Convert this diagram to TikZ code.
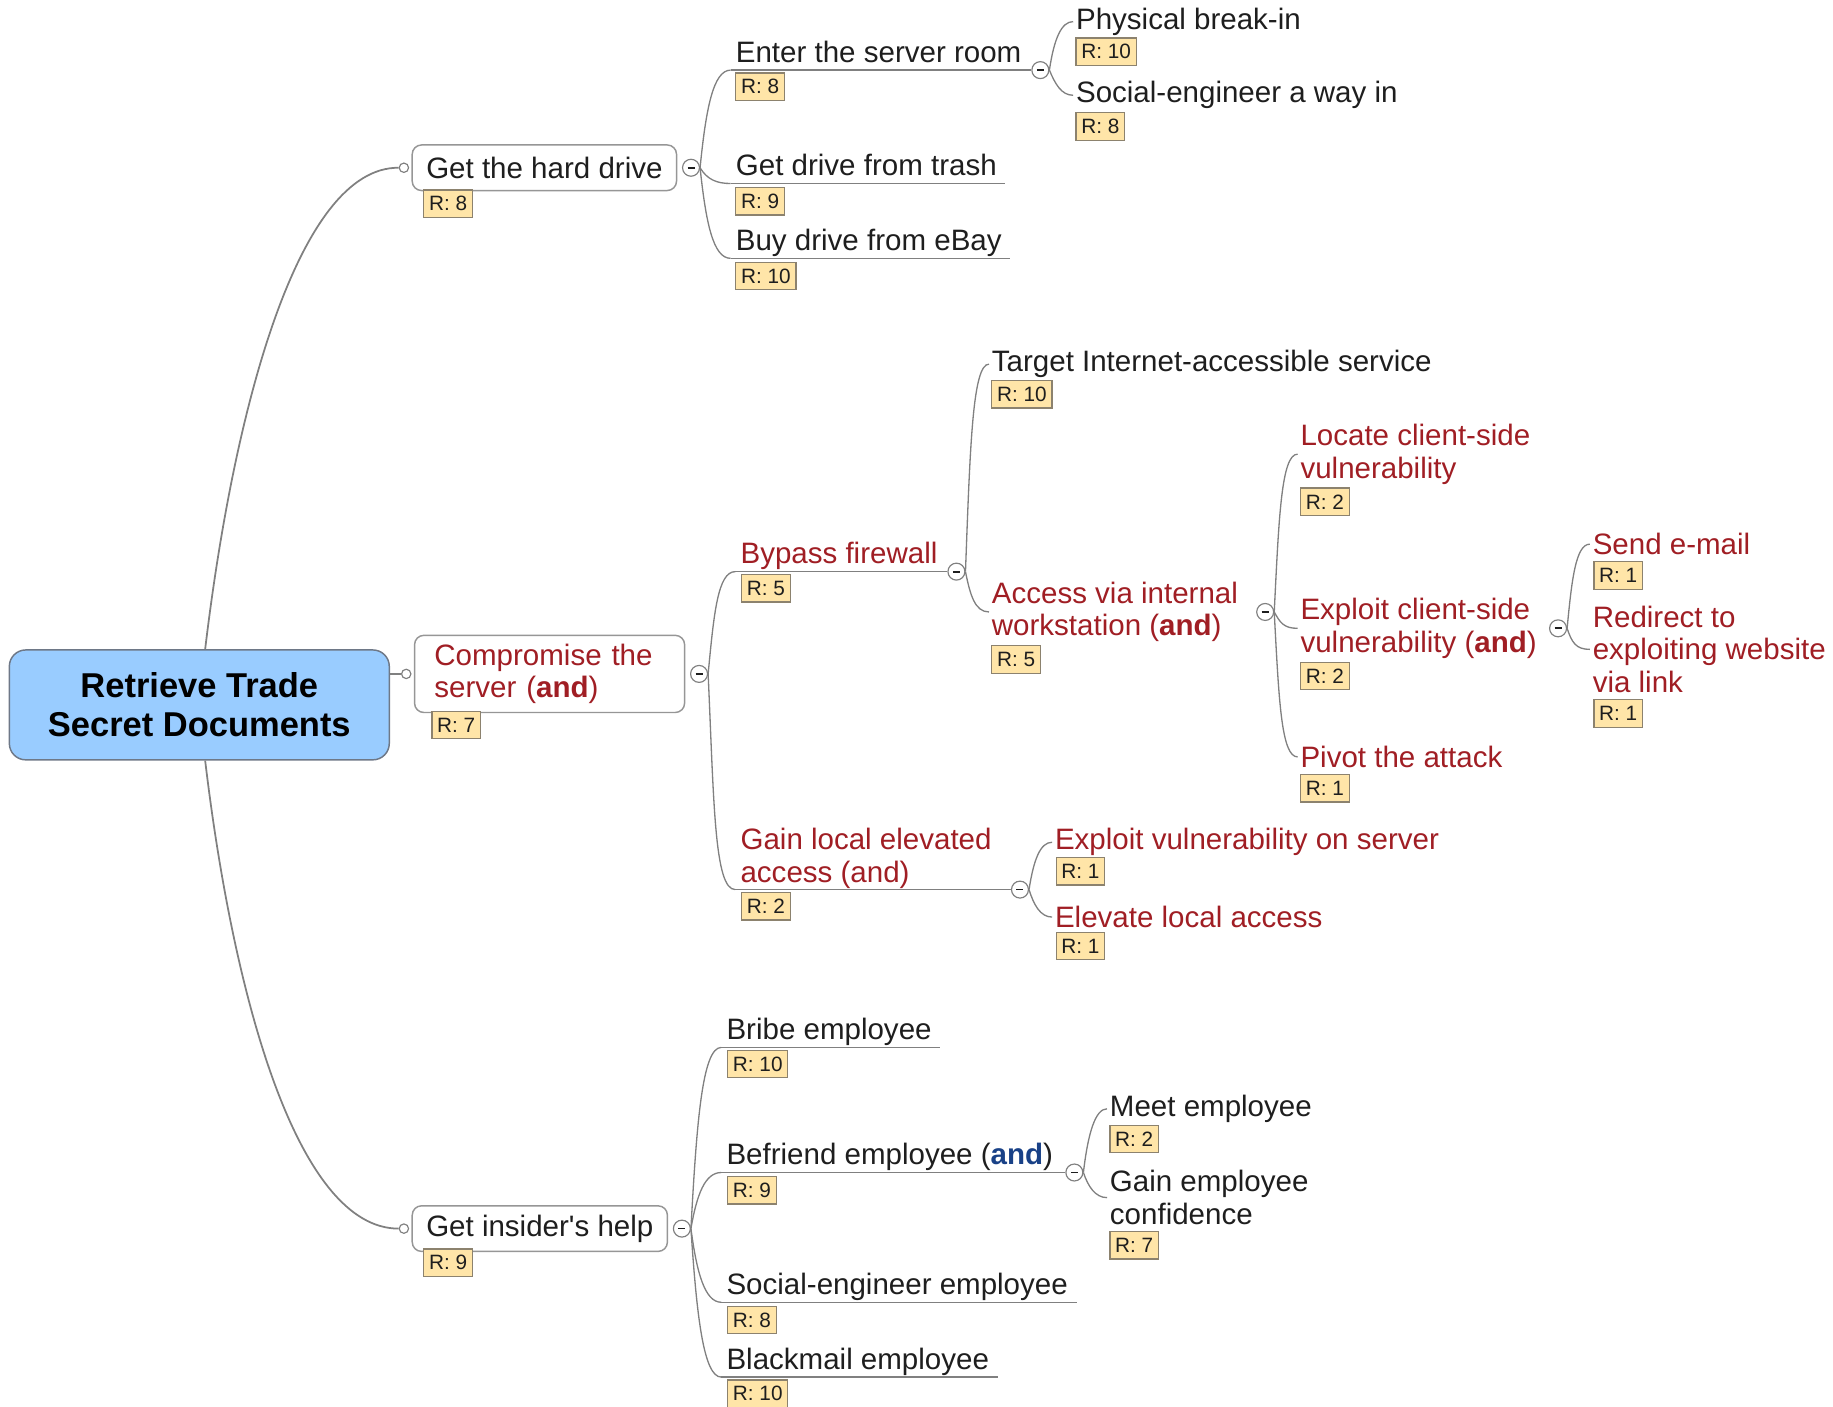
\documentclass[tikz,border=0pt]{standalone}
\usepackage{fontspec}
\setmainfont{Liberation Sans}
\usepackage{tikz}
\usetikzlibrary{positioning}
\usepackage{xcolor}

\definecolor{linegray}{RGB}{128,128,128}
\definecolor{boxgray}{RGB}{150,150,150}
\definecolor{rootblue}{RGB}{153,204,255}
\definecolor{rootedge}{RGB}{110,120,135}
\definecolor{redtxt}{RGB}{160,30,36}
\definecolor{bluetxt}{RGB}{25,65,135}
\definecolor{rfill}{RGB}{255,229,168}
\definecolor{redge}{RGB}{140,130,110}
\definecolor{blacktxt}{RGB}{30,30,30}
\newcommand{\foldbar}{\rule{2.4pt}{0.6pt}}

\begin{document}
\begin{tikzpicture}[x=0.4pt,y=-0.4pt,
  every node/.style={font=\fontsize{10.1}{11.2}\selectfont, text=blacktxt},
  link/.style={draw=linegray, line width=0.45pt},
  root/.style={draw=rootedge, fill=rootblue, rounded corners=5.6pt, minimum width=130pt, minimum height=37.6pt, align=center, text=black, font=\fontsize{11.8}{13.2}\selectfont\bfseries, line width=0.5pt},
  topbox/.style={draw=boxgray, fill=white, rounded corners=3.2pt, inner xsep=4.8pt, inner ysep=0pt, minimum height=15.6pt, line width=0.5pt},
  uline/.style={inner xsep=1.6pt, inner ysep=0.3pt, text depth=2.2pt, anchor=south west},
  multi/.style={inner xsep=1.6pt, inner ysep=0.3pt, align=left, anchor=south west},
  leaf/.style={inner xsep=0.8pt, inner ysep=0pt, align=left, anchor=west, yshift=-1pt},
  rbox/.style={draw=redge, fill=rfill, font=\fontsize{7.1}{8}\selectfont, text=blacktxt, inner xsep=1.8pt, inner ysep=0pt, minimum height=9.4pt, anchor=north west, line width=0.4pt},
  port/.style={circle, draw=linegray, fill=white, inner sep=0pt, minimum size=3.2pt, line width=0.4pt},
  fold/.style={circle, draw=linegray, fill=white, inner sep=0pt, minimum size=5.8pt, line width=0.4pt}
]
\useasboundingbox (0,0) rectangle (1568,1203);

% root and main topics
\node[root] (root) at (170.5,603) {Retrieve Trade\\Secret Documents};
\node[topbox, anchor=west] (hard) at (352,143.5) {Get the hard drive};
\node[topbox, anchor=west, text width=78.8pt, inner xsep=6.8pt, align=left, minimum height=26.4pt, text=redtxt] (comp) at (354,576.5) {Compromise the\\server (\textbf{and})};
\node[topbox, anchor=west] (insider) at (352,1051) {Get insider\textquotesingle s help};
\node[rbox] (hardR) at (362,162) {R: 8};
\node[rbox] (compR) at (369,608) {R: 7};
\node[rbox] (insiderR) at (362,1068) {R: 9};
\node[port, left=0.8pt of hard] (hardport) {};
\node[port, left=0.8pt of comp] (compport) {};
\node[port, left=0.8pt of insider] (insiderport) {};
\node[fold, right=1.6pt of hard] (hardfold) {\foldbar};
\node[fold, right=1.6pt of comp] (compfold) {\foldbar};
\node[fold, right=1.6pt of insider] (insiderfold) {\foldbar};
\draw[link, line width=0.6pt] ([xshift=2pt]root.north) .. controls (200,350) and (255,143) .. (hardport.west);
\draw[link, line width=0.6pt] (root.east |- compport) -- (compport.west);
\draw[link, line width=0.6pt] ([xshift=2pt]root.south) .. controls (200,856) and (255,1051) .. (insiderport.west);

% get the hard drive
\node[uline] (enter) at (625,60) {Enter the server room};
\node[uline] (trash) at (625,157) {Get drive from trash};
\node[uline] (ebay) at (625,221) {Buy drive from eBay};
\node[fold, right=1.6pt of enter.south east] (enterfold) {\foldbar};
\draw[link] (enter.south west) -- (enterfold.west);
\draw[link] (trash.south west) -- ([xshift=1.2pt]trash.south east);
\draw[link] (ebay.south west) -- ([xshift=1.2pt]ebay.south east);
\node[rbox] (enterR) at (629,62) {R: 8};
\node[rbox] (trashR) at (629,160) {R: 9};
\node[rbox] (ebayR) at (629,224) {R: 10};
\draw[link] (hardfold.east) .. controls +(5,-50) and +(-15,0) .. (enter.south west);
\draw[link] (hardfold.east) .. controls +(6,10) and +(-12,0) .. (trash.south west);
\draw[link] (hardfold.east) .. controls +(5,47) and +(-15,0) .. (ebay.south west);

\node[leaf] (phys) at (918,16) {Physical break-in};
\node[rbox] (physR) at (920,32) {R: 10};
\node[leaf] (sociwin) at (918,79) {Social-engineer a way in};
\node[rbox] (sociwinR) at (920,96) {R: 8};
\draw[link] (enterfold.east) .. controls +(4,-27) and +(-10,0) .. (phys.west);
\draw[link] (enterfold.east) .. controls +(5,12) and +(-10,0) .. (sociwin.west);

% compromise the server
\node[uline, text=redtxt] (bypass) at (629,489) {Bypass firewall};
\node[fold, right=1.6pt of bypass.south east] (bypassfold) {\foldbar};
\draw[link] (bypass.south west) -- (bypassfold.west);
\node[rbox] (bypassR) at (634,491) {R: 5};
\node[multi, text=redtxt] (gain) at (629,761) {Gain local elevated\\access (and)};
\node[fold, right=4.8pt of gain.south east] (gainfold) {\foldbar};
\draw[link] (gain.south west) -- (gainfold.west);
\node[rbox] (gainR) at (634,763) {R: 2};
\draw[link] (compfold.east) .. controls +(5,-52) and +(-15,0) .. (bypass.south west);
\draw[link] (compfold.east) .. controls +(5,110) and +(-18,0) .. (gain.south west);

\node[leaf] (target) at (846,309) {Target Internet-accessible service};
\node[rbox] (targetR) at (848,325) {R: 10};
\node[leaf, text=redtxt] (access) at (846,521) {Access via internal\\workstation (\textbf{and})};
\node[rbox] (accessR) at (848,552) {R: 5};
\node[fold, right=5.2pt of access] (accessfold) {\foldbar};
\draw[link] (bypassfold.east) .. controls +(4,-108) and +(-14,0) .. (target.west);
\draw[link] (bypassfold.east) .. controls +(4,20) and +(-12,0) .. (access.west);

\node[leaf, text=redtxt] (locate) at (1110,386) {Locate client-side\\vulnerability};
\node[rbox] (locateR) at (1112,417) {R: 2};
\node[leaf, text=redtxt] (clientx) at (1110,535) {Exploit client-side\\vulnerability (\textbf{and})};
\node[rbox] (clientxR) at (1112,566) {R: 2};
\node[fold, right=3.2pt of clientx] (clientxfold) {\foldbar};
\node[leaf, text=redtxt] (pivot) at (1110,645) {Pivot the attack};
\node[rbox] (pivotR) at (1112,662) {R: 1};
\draw[link] (accessfold.east) .. controls +(4,-80) and +(-14,0) .. (locate.west);
\draw[link] (accessfold.east) .. controls +(5,9) and +(-12,0) .. (clientx.west);
\draw[link] (accessfold.east) .. controls +(4,75) and +(-14,0) .. (pivot.west);

\node[leaf, text=redtxt] (email) at (1360,463) {Send e-mail};
\node[rbox] (emailR) at (1363,480) {R: 1};
\node[leaf, text=redtxt] (redirect) at (1360,553) {Redirect to\\exploiting website\\via link};
\node[rbox] (redirectR) at (1363,598) {R: 1};
\draw[link] (clientxfold.east) .. controls +(4,-42) and +(-12,0) .. (email.west);
\draw[link] (clientxfold.east) .. controls +(4,12) and +(-12,0) .. (redirect.west);

\node[leaf, text=redtxt] (srvvuln) at (900,718) {Exploit vulnerability on server};
\node[rbox] (srvvulnR) at (903,733) {R: 1};
\node[leaf, text=redtxt] (elevate) at (900,782) {Elevate local access};
\node[rbox] (elevateR) at (903,797) {R: 1};
\draw[link] (gainfold.east) .. controls +(4,-26) and +(-10,0) .. (srvvuln.west);
\draw[link] (gainfold.east) .. controls +(4,13) and +(-10,0) .. (elevate.west);

% get insider's help
\node[uline] (bribe) at (617,896) {Bribe employee};
\node[rbox] (bribeR) at (622,898) {R: 10};
\node[uline] (befriend) at (617,1003) {Befriend employee (\textcolor{bluetxt}{\textbf{and}})};
\node[fold, right=2.4pt of befriend.south east] (befriendfold) {\foldbar};
\node[rbox] (befriendR) at (622,1006) {R: 9};
\node[uline] (socemp) at (617,1114) {Social-engineer employee};
\node[rbox] (socempR) at (622,1117) {R: 8};
\node[uline] (blackmail) at (617,1178) {Blackmail employee};
\node[rbox] (blackmailR) at (622,1180) {R: 10};
\draw[link] (bribe.south west) -- ([xshift=1.2pt]bribe.south east);
\draw[link] (befriend.south west) -- (befriendfold.west);
\draw[link] (socemp.south west) -- ([xshift=1.2pt]socemp.south east);
\draw[link] (blackmail.south west) -- ([xshift=1.2pt]blackmail.south east);
\draw[link] (insiderfold.east) .. controls +(5,-93) and +(-16,0) .. (bribe.south west);
\draw[link] (insiderfold.east) .. controls +(5,-29) and +(-14,0) .. (befriend.south west);
\draw[link] (insiderfold.east) .. controls +(5,38) and +(-14,0) .. (socemp.south west);
\draw[link] (insiderfold.east) .. controls +(5,76) and +(-15,0) .. (blackmail.south west);

\node[leaf] (meet) at (947,946) {Meet employee};
\node[rbox] (meetR) at (949,962) {R: 2};
\node[leaf] (trust) at (947,1022) {Gain employee\\confidence};
\node[rbox] (trustR) at (949,1053) {R: 7};
\draw[link] (befriendfold.east) .. controls +(4,-34) and +(-10,0) .. (meet.west);
\draw[link] (befriendfold.east) .. controls +(4,12) and +(-10,0) .. (trust.west);
\end{tikzpicture}
\end{document}
